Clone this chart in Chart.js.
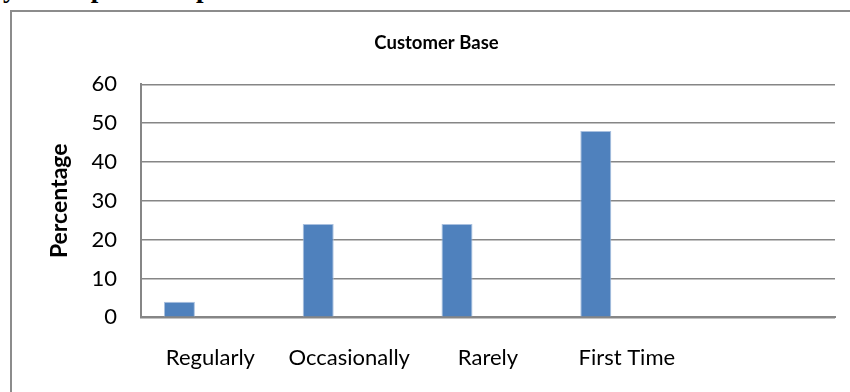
<!DOCTYPE html>
<html>
<head>
<meta charset="utf-8">
<script src="https://cdn.jsdelivr.net/npm/chart.js@4/dist/chart.umd.min.js"></script>
<style>
  html, body { margin: 0; padding: 0; width: 850px; height: 392px; overflow: hidden; background: #fff; }
  .lead {
    position: absolute; left: 3px; top: -25px;
    font: bold 27px "Liberation Serif", serif; line-height: 27px;
    white-space: nowrap; color: #000;
  }
  .box {
    position: absolute; left: 10px; top: 10px;
    width: 860px; height: 400px;
    border-left: 2px solid #8c8c8c; border-top: 2px solid #8c8c8c;
  }
  #chart { position: absolute; left: 38px; top: 12px; display: block; }
</style>
</head>
<body>
<div class="lead">you shop for the products:</div>
<div class="box"></div>
<canvas id="chart" width="823" height="380"></canvas>
<script>
// categories (last one is an empty slot on the axis)
const categories = ['Regularly', 'Occasionally', 'Rarely', 'First Time', ''];
// percentage of customers
const customerBase = [4, 24, 24, 48, null];
// unused series kept so the bars sit in their group slot
const series2 = [];
const series3 = [];

const yTicks = { min: 0, max: 60, step: 10 };

const gray = '#868686';
const blue = '#4F81BD';

const ctx = document.getElementById('chart');

new Chart(ctx, {
    type: 'bar',
    data: {
        labels: categories,
        datasets: [
            { label: 'Series1', data: customerBase, backgroundColor: blue, borderColor: '#a9c0df', borderWidth: 1 },
            { label: 'Series2', data: series2, backgroundColor: blue },
            { label: 'Series3', data: series3, backgroundColor: blue }
        ]
    },
    options: {
        responsive: false,
        animation: false,
        categoryPercentage: 0.67,
        barPercentage: 1,
        layout: { padding: { left: 0, right: 26, top: 0, bottom: 0 } },
        plugins: {
            legend: { display: false },
            tooltip: { enabled: false },
            title: {
                display: true,
                text: 'Customer Base',
                color: '#000',
                font: { family: 'Lato', size: 18.5, weight: 'bold' },
                padding: { top: 19.9, bottom: 30.2 }
            }
        },
        scales: {
            x: {
                grid: { display: false, drawTicks: false },
                border: { display: true, color: gray, width: 2 },
                ticks: {
                    color: '#000',
                    padding: 27,
                    maxRotation: 0,
                    autoSkip: false,
                    font: { family: 'Lato', size: 22 }
                },
                afterFit: (axis) => { axis.height = 74.7; }
            },
            y: {
                min: yTicks.min,
                max: yTicks.max,
                grid: { color: gray, lineWidth: 1.5, drawTicks: false },
                border: { display: true, color: gray, width: 2 },
                ticks: {
                    stepSize: yTicks.step,
                    color: '#000',
                    padding: 24,
                    font: { family: 'Lato', size: 22 }
                },
                title: {
                    display: true,
                    text: 'Percentage',
                    color: '#000',
                    font: { family: 'Lato', size: 23, weight: 'bold' },
                    padding: { top: 8.2, bottom: 0 }
                },
                afterFit: (axis) => { axis.width = 103; }
            }
        }
    }
});
</script>
</body>
</html>
